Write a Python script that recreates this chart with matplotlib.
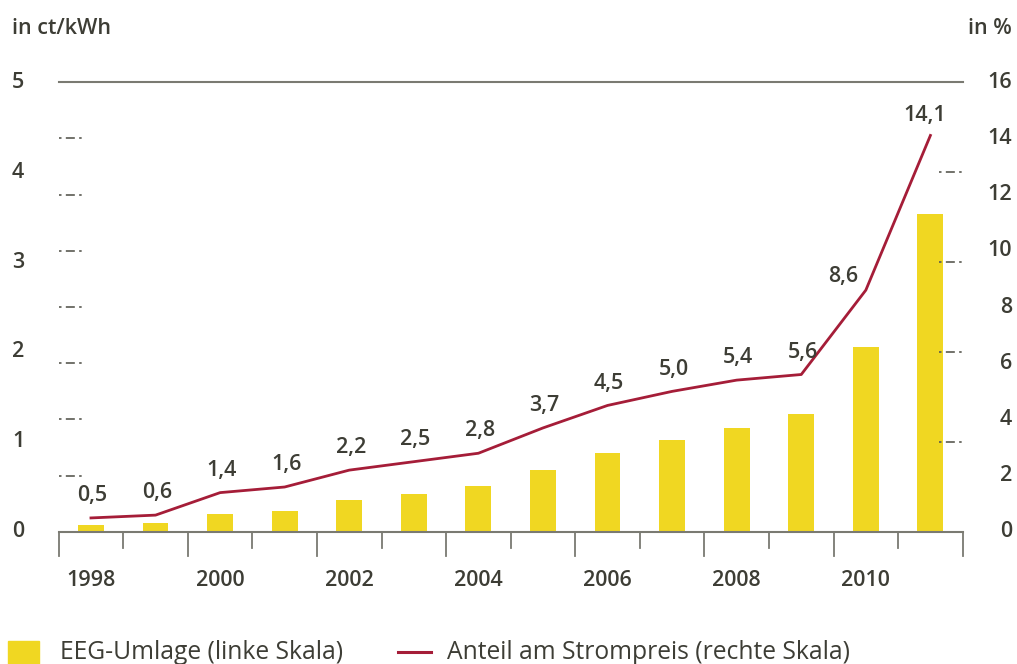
import matplotlib
matplotlib.use("Agg")
import matplotlib.pyplot as plt
import matplotlib.transforms as mtransforms
from matplotlib.patches import Rectangle
from matplotlib.lines import Line2D

# data
years = [1998, 1999, 2000, 2001, 2002, 2003, 2004, 2005, 2006, 2007, 2008, 2009, 2010, 2011]
eeg_umlage = [0.08, 0.10, 0.20, 0.23, 0.35, 0.42, 0.51, 0.69, 0.88, 1.02, 1.16, 1.31, 2.05, 3.53]
anteil = [0.5, 0.6, 1.4, 1.6, 2.2, 2.5, 2.8, 3.7, 4.5, 5.0, 5.4, 5.6, 8.6, 14.1]
anteil_labels = ["0,5", "0,6", "1,4", "1,6", "2,2", "2,5", "2,8", "3,7", "4,5", "5,0", "5,4", "5,6", "8,6", "14,1"]
left_ticks = [0, 1, 2, 3, 4, 5]
right_ticks = [0, 2, 4, 6, 8, 10, 12, 14, 16]
year_labels = [1998, 2000, 2002, 2004, 2006, 2008, 2010]

yellow = "#F0D722"
red = "#A51D38"
grey = "#7a7a72"
txt = "#3d3d35"
fs = 15.5

plt.rcParams['font.family'] = ['Open Sans', 'DejaVu Sans']

fig = plt.figure(figsize=(10.17, 6.64), dpi=100)
ax = fig.add_axes([0.0577, 0.1988, 0.8889, 0.6777])
ax2 = ax.twinx()

ax.bar(years, eeg_umlage, width=0.4, color=yellow, zorder=2)
ax.set_xlim(1997.5, 2011.5)
ax.set_ylim(0, 5)
ax2.set_ylim(0, 16)

ax2.plot(years, anteil, color=red, lw=2, zorder=3)

# value labels on the line
offsets = {12: (-16, 2), 13: (-4, 7)}
for i, (yr, v) in enumerate(zip(years, anteil)):
    dx, dy = offsets.get(i, (1, 8.5))
    ax2.annotate(anteil_labels[i], (yr, v), xytext=(dx, dy), textcoords="offset points",
                 ha="center", va="bottom", fontsize=fs, fontweight="semibold", color=txt)

# hide default axis stuff
for a in (ax, ax2):
    a.set_yticks([])
    a.set_xticks([])
    for s in ("top", "left", "right"):
        a.spines[s].set_visible(False)
ax2.spines["bottom"].set_visible(False)
ax.spines["bottom"].set_color(grey)
ax.spines["bottom"].set_linewidth(1.5)

# top line at 5
ax.axhline(5, color=grey, lw=1.5, clip_on=False)

# short dashed marks: right-scale grid on the left, left-scale grid on the right
dash = (0, (1.5, 2.6, 5.4, 2.6, 1.5, 72))
for v in right_ticks[1:-1]:
    ax2.axhline(v, xmin=0, xmax=0.026, color="#5a5a52", lw=1.2, linestyle=dash)
for v in left_ticks[1:-1]:
    ax.axhline(v, xmin=0.974, xmax=1.0, color="#5a5a52", lw=1.2, linestyle=dash)

# x tick marks
for i in range(len(years) + 1):
    x = 1997.5 + i
    long = (i % 2 == 0)
    ax.plot([x, x], [0, -0.27 if long else -0.18], color=grey, lw=1.3, clip_on=False)

# year labels
tr_year = mtransforms.blended_transform_factory(ax.transData, fig.transFigure)
for y in year_labels:
    ax.text(y, 0.126, str(y), transform=tr_year, ha="center", va="center",
            fontsize=fs, fontweight="semibold", color=txt)

# y tick labels
tr_left = mtransforms.blended_transform_factory(fig.transFigure, ax.transData)
for v in left_ticks:
    ax.text(12 / 1017, v, str(v), transform=tr_left, ha="left", va="center",
            fontsize=fs, fontweight="semibold", color=txt)
tr_right = mtransforms.blended_transform_factory(fig.transFigure, ax2.transData)
for v in right_ticks:
    ax2.text(1012 / 1017, v, str(v), transform=tr_right, ha="right", va="center",
             fontsize=fs, fontweight="semibold", color=txt)

fig.text(12 / 1017, 1 - 28 / 664, "in ct/kWh", ha="left", va="center",
         fontsize=fs, fontweight="semibold", color=txt)
fig.text(1012 / 1017, 1 - 28 / 664, "in %", ha="right", va="center",
         fontsize=fs, fontweight="semibold", color=txt)

# legend
fig.patches.append(Rectangle((8 / 1017, -0.01), 31 / 1017, (664 - 641) / 664 + 0.01,
                             transform=fig.transFigure, color=yellow))
fig.text(60 / 1017, 5 / 664, "EEG-Umlage (linke Skala)", ha="left", va="baseline",
         fontsize=17.7, color=txt)
fig.lines.append(Line2D([398 / 1017, 431 / 1017], [12 / 664, 12 / 664], transform=fig.transFigure,
                        color=red, lw=2.2))
fig.text(447 / 1017, 5 / 664, "Anteil am Strompreis (rechte Skala)", ha="left", va="baseline",
         fontsize=17.7, color=txt)

fig.savefig("out.png", dpi=100)
